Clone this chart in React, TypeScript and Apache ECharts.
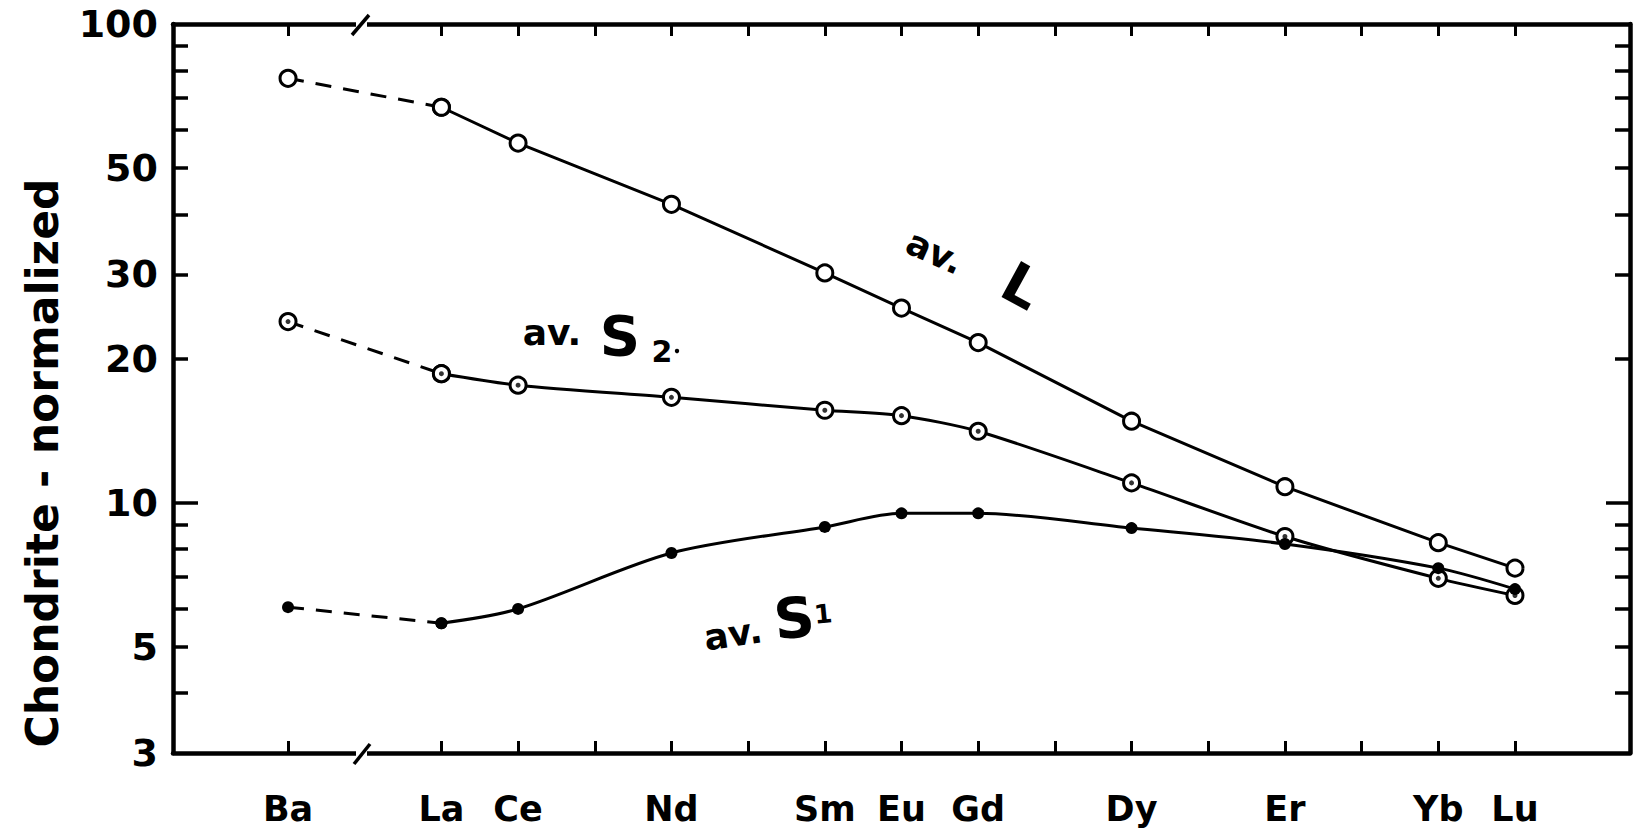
import React, { useEffect, useRef } from "react";
import * as echarts from "echarts";

// ---- data ----
const elements = ["Ba", "La", "Ce", "Nd", "Sm", "Eu", "Gd", "Dy", "Er", "Yb", "Lu"];
// horizontal position of each element (REE by atomic number, Ba set two steps before La across an axis break)
const positions = [55, 57, 58, 60, 62, 63, 64, 66, 68, 70, 71];
const xTickPositions = [55, 57, 58, 59, 60, 61, 62, 63, 64, 65, 66, 67, 68, 69, 70, 71];

const avL = [77, 67, 56.4, 42, 30.2, 25.5, 21.6, 14.8, 10.8, 8.25, 7.3];
const avS2 = [23.9, 18.6, 17.6, 16.6, 15.6, 15.2, 14.1, 11.0, 8.5, 6.95, 6.4];
const avS1 = [6.05, 5.6, 6.0, 7.85, 8.9, 9.5, 9.5, 8.85, 8.2, 7.3, 6.6];

const yLabelValues = [3, 5, 10, 20, 30, 50, 100];
const yShortTicks = [4, 5, 6, 7, 8, 9, 20, 30, 40, 50, 60, 70, 80, 90];
const yLongTicks = [10];

const FONT = "DejaVu Sans";
const lg = (v: number) => Math.log10(v);

function pts(vals: number[], from: number, to: number) {
  return positions.slice(from, to).map((p, i) => [p, lg(vals[from + i])]);
}

const openCircle = {
  symbol: "circle",
  symbolSize: 16,
  itemStyle: { color: "#fff", borderColor: "#000", borderWidth: 3 },
};
const filledCircle = {
  symbol: "circle",
  symbolSize: 12,
  itemStyle: { color: "#000", borderColor: "#000", borderWidth: 0 },
};

function lineSeries(name: string, vals: number[], sym: any, smooth: number) {
  const base = {
    type: "line",
    showSymbol: true,
    silent: true,
    ...sym,
  };
  return [
    {
      ...base,
      name: name + " (Ba-La)",
      data: pts(vals, 0, 2),
      lineStyle: { color: "#000", width: 3, type: [16, 12] },
    },
    {
      ...base,
      name,
      data: pts(vals, 1, vals.length),
      smooth,
      lineStyle: { color: "#000", width: 3 },
    },
  ];
}

function yAxis(position: string, ticks: number[], len: number, labels: boolean, line: boolean) {
  return {
    type: "value",
    position,
    min: lg(3),
    max: 2,
    axisLine: { show: line, onZero: false, lineStyle: { color: "#000", width: 4.5 } },
    axisTick: {
      show: true,
      inside: true,
      length: len,
      customValues: ticks.map(lg),
      lineStyle: { color: "#000", width: 3.5 },
    },
    axisLabel: {
      show: labels,
      customValues: yLabelValues.map(lg),
      formatter: (v: number) => String(Math.round(Math.pow(10, v))),
      color: "#000",
      fontFamily: FONT,
      fontWeight: "bold",
      fontSize: 38,
      margin: 15,
    },
    splitLine: { show: false },
  };
}

function xAxis(position: string, labels: boolean) {
  return {
    type: "value",
    position,
    min: 53.5,
    max: 72.5,
    axisLine: { show: true, onZero: false, lineStyle: { color: "#000", width: 4.5 } },
    axisTick: {
      show: true,
      inside: true,
      length: 12,
      customValues: xTickPositions,
      lineStyle: { color: "#000", width: 3 },
    },
    axisLabel: {
      show: labels,
      customValues: positions,
      formatter: (v: number) => {
        const i = positions.indexOf(Math.round(v));
        return i >= 0 ? elements[i] : "";
      },
      color: "#000",
      fontFamily: FONT,
      fontWeight: "bold",
      fontSize: 35,
      margin: 38,
    },
    splitLine: { show: false },
  };
}

function txt(text: string, x: number, y: number, size: number, rotation = 0) {
  return {
    type: "text",
    x,
    y,
    rotation,
    z: 110,
    style: {
      text,
      fill: "#000",
      fontFamily: FONT,
      fontWeight: "bold",
      fontSize: size,
      align: "center",
      verticalAlign: "middle",
    },
  };
}

export default function App() {
  const ref = useRef<HTMLDivElement>(null);
  useEffect(() => {
    if (!ref.current) return;
    const chart = echarts.init(ref.current, undefined, { renderer: "svg" });
    const option: any = {
      animation: false,
      backgroundColor: "#fff",
      grid: { left: 173, top: 24, right: 12, bottom: 87, containLabel: false },
      xAxis: [xAxis("bottom", true), xAxis("top", false)],
      yAxis: [
        yAxis("left", yShortTicks, 15, true, true),
        yAxis("left", yLongTicks, 25, false, false),
        yAxis("right", yShortTicks, 15, false, true),
        yAxis("right", yLongTicks, 24, false, false),
      ],
      series: [
        ...lineSeries("av. L", avL, openCircle, 0),
        ...lineSeries("av. S2", avS2, openCircle, 0.25),
        {
          type: "scatter",
          name: "av. S2 centre",
          data: pts(avS2, 0, avS2.length),
          symbol: "circle",
          symbolSize: 5,
          itemStyle: { color: "#000" },
          z: 5,
          silent: true,
        },
        ...lineSeries("av. S1", avS1, filledCircle, 0.3),
      ],
      graphic: [
        // axis breaks between Ba and La
        { type: "rect", z: 100, shape: { x: 356, y: 18, width: 11, height: 12 }, style: { fill: "#fff" } },
        { type: "line", z: 101, shape: { x1: 352, y1: 35, x2: 369, y2: 15 }, style: { stroke: "#000", lineWidth: 3.5 } },
        { type: "rect", z: 100, shape: { x: 356, y: 747, width: 11, height: 12 }, style: { fill: "#fff" } },
        { type: "line", z: 101, shape: { x1: 354, y1: 764, x2: 370, y2: 744 }, style: { stroke: "#000", lineWidth: 3.5 } },
        // y axis title
        txt("Chondrite - normalized", 42, 463, 44, Math.PI / 2),
        // annotations
        txt("av.", 935, 252, 36, -0.42),
        txt("L", 1022, 286, 56, -0.5),
        txt("av.", 552, 332, 36),
        txt("S", 620, 335, 56),
        txt("2", 662, 351, 30),
        { type: "circle", z: 110, shape: { cx: 677, cy: 351, r: 2.2 }, style: { fill: "#000" } },
        txt("av.", 733, 634, 36, 0.15),
        txt("S", 794, 618, 56, 0.1),
        txt("1", 823, 614, 26, 0.1),
      ],
    };
    chart.setOption(option);
    return () => chart.dispose();
  }, []);
  return (
    <div
      ref={ref}
      style={{ position: "fixed", left: 0, top: 0, width: 1642, height: 840, background: "#fff" }}
    />
  );
}
